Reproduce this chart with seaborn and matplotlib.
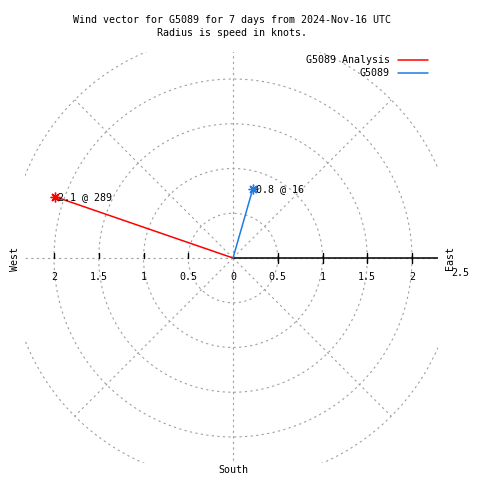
import matplotlib
matplotlib.use('Agg')

import matplotlib.pyplot as plt
import seaborn as sns
import numpy as np
import pandas as pd
from matplotlib.lines import Line2D

# data
series = ["G5089 Analysis", "G5089"]
speeds = [2.1, 0.8]          # knots
directions = [289, 16]       # degrees, clockwise from north
colors = ["#ff0000", "#1c7ce6"]
ring_radii = [0.5, 1.0, 1.5, 2.0, 2.5]
spoke_angles = [0, 45, 90, 135, 180, 225, 270, 315]
tick_values = [0.5, 1.0, 1.5, 2.0]
tick_labels = ["0.5", "1", "1.5", "2"]

sns.set_theme(style="white")
plt.rcParams['font.family'] = ['DejaVu Sans Mono', 'DejaVu Sans']
plt.rcParams['text.color'] = 'black'
FS = 7.2
PX = 1 / 89.5  # data units per pixel

fig = plt.figure(figsize=(4.8, 4.8), dpi=100)
ax = fig.add_axes([25 / 480, 1 - 463 / 480, 413 / 480, 411 / 480])
xmin, xmax = -208 * PX, 205 * PX
ymin, ymax = -205 * PX, 206 * PX
ax.set_xlim(xmin, xmax)
ax.set_ylim(ymin, ymax)
ax.set_axis_off()

grid_kw = dict(color="#a0a0a0", lw=0.8, ls=(0, (2, 3)))
t = np.linspace(0, 2 * np.pi, 721)
for r in ring_radii:
    ax.plot(r * np.cos(t), r * np.sin(t), **grid_kw)
for a in spoke_angles:
    ang = np.deg2rad(a)
    ax.plot([0, 2.5 * np.cos(ang)], [0, 2.5 * np.sin(ang)], **grid_kw)

# black radial axis with ticks
ax.plot([0, xmax], [0, 0], color="black", lw=1.1)
for v, lab in zip(tick_values, tick_labels):
    ax.plot([v, v], [-5 * PX, 5 * PX], color="black", lw=1.0)
    ax.plot([-v, -v], [0, 5 * PX], color="black", lw=1.0)
    ax.text(-v, -19 * PX, lab, ha="center", va="center", fontsize=FS)
    ax.text(v, -19 * PX, lab, ha="center", va="center", fontsize=FS)
ax.text(0, -19 * PX, "0", ha="center", va="center", fontsize=FS)
ax.text(2.5 + 3 * PX, -15 * PX, "2.5", ha="center", va="center", fontsize=FS, clip_on=False)

# vectors
df = pd.DataFrame({
    "series": [s for s in series for _ in range(2)],
    "x": [v for s, d in zip(speeds, directions)
          for v in (0.0, s * np.cos(np.deg2rad(90 - d)))],
    "y": [v for s, d in zip(speeds, directions)
          for v in (0.0, s * np.sin(np.deg2rad(90 - d)))],
})
sns.lineplot(data=df, x="x", y="y", hue="series", palette=colors,
             sort=False, estimator=None, lw=1.1, legend=False, ax=ax)
tips = df.iloc[1::2]
for (_, row), s, d, c in zip(tips.iterrows(), speeds, directions, colors):
    ax.plot(row.x, row.y, marker=(8, 2, 0), ms=7, color=c, mew=1.0)
    ax.text(row.x + 3 * PX, row.y, f"{s} @ {d}", ha="left", va="center", fontsize=FS)

# compass labels
fig.text(15 / 480, 1 - 259 / 480, "West", rotation=90, ha="center", va="center", fontsize=FS)
fig.text(450 / 480, 1 - 258 / 480, "East", rotation=90, ha="center", va="center", fontsize=FS)
fig.text(233 / 480, 1 - 470 / 480, "South", ha="center", va="center", fontsize=FS)

fig.text(232 / 480, 1 - 20 / 480, "Wind vector for G5089 for 7 days from 2024-Nov-16 UTC",
         ha="center", va="center", fontsize=FS)
fig.text(232 / 480, 1 - 33 / 480, "Radius is speed in knots.",
         ha="center", va="center", fontsize=FS)

handles = [Line2D([], [], color=c, lw=1.1) for c in colors]
ax.legend(handles, series, loc="upper right", bbox_to_anchor=(428 / 480, 1 - 55 / 480),
          bbox_transform=fig.transFigure, frameon=False, markerfirst=False,
          fontsize=FS, handlelength=3.0, handletextpad=0.8, labelspacing=0.3,
          borderpad=0, borderaxespad=0)

fig.savefig("out.png", dpi=100)
plt.close(fig)
